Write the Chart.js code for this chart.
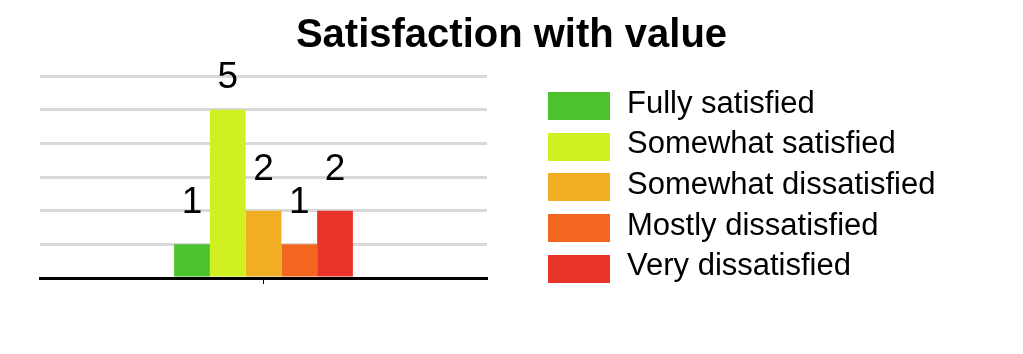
<!DOCTYPE html>
<html>
<head>
<meta charset="utf-8">
<title>Satisfaction with value</title>
<script src="https://cdn.jsdelivr.net/npm/chart.js@4/dist/chart.umd.min.js"></script>
<style>
  body { margin: 0; background: #fff; }
  #wrap { width: 1023px; height: 354px; position: relative; font-family: 'Liberation Sans', Arial, sans-serif; color: #000; }
  #title { position: absolute; left: 0; top: 13px; width: 1023px; text-align: center; font-size: 40px; line-height: 40px; font-weight: bold; }
  #legend { position: absolute; left: 548px; top: 0; }
  .item { position: absolute; left: 0; height: 28px; white-space: nowrap; }
  .box { position: absolute; left: 0; top: 0; width: 62px; height: 28px; }
  .text { position: absolute; left: 79px; top: -3.5px; font-size: 31px; line-height: 28px; }
</style>
</head>
<body>
<div id="wrap">
  <canvas id="chart"></canvas>
  <div id="title">Satisfaction with value</div>
  <div id="legend"></div>
</div>
<script>
// Dados do gráfico
const categories = [''];
const seriesNames = ['Fully satisfied', 'Somewhat satisfied', 'Somewhat dissatisfied', 'Mostly dissatisfied', 'Very dissatisfied'];
const seriesValues = [1, 5, 2, 1, 2];
const seriesColors = ['#4cc22c', '#d0f021', '#f2ae22', '#f3661f', '#e8342b'];
const yTicks = [0, 1, 2, 3, 4, 5, 6];

const fontFamily = "'Liberation Sans', Arial, sans-serif";

// Rótulos de valor acima das barras
const valueLabels = {
    id: 'valueLabels',
    afterDatasetsDraw(chart) {
        const ctx = chart.ctx;
        const top = chart.chartArea.top;
        ctx.save();
        ctx.font = '37px ' + fontFamily;
        ctx.fillStyle = '#000';
        ctx.textAlign = 'center';
        ctx.textBaseline = 'alphabetic';
        chart.data.datasets.forEach((ds, i) => {
            chart.getDatasetMeta(i).data.forEach((bar, j) => {
                const y = Math.max(bar.y - 31, top + 12);
                ctx.fillText(String(ds.data[j]), bar.x, y);
            });
        });
        ctx.restore();
    }
};

const datasets = seriesNames.map((name, i) => ({
    label: name,
    data: [seriesValues[i]],
    backgroundColor: seriesColors[i],
    borderWidth: 0,
    categoryPercentage: 0.4,
    barPercentage: 1.0
}));

const chart = new Chart(document.getElementById('chart'), {
    type: 'bar',
    data: { labels: categories, datasets: datasets },
    options: {
        responsive: true,
        maintainAspectRatio: false,
        animation: false,
        layout: { padding: { left: 40, right: 536, top: 76, bottom: 70 } },
        plugins: {
            title: { display: false },
            legend: { display: false },
            tooltip: { enabled: false }
        },
        scales: {
            x: {
                ticks: { display: false },
                grid: { display: true, drawOnChartArea: false, drawTicks: true, tickLength: 6, offset: false, color: '#000', lineWidth: 1 },
                border: { display: true, color: '#000', width: 3 }
            },
            y: {
                min: 0,
                max: yTicks[yTicks.length - 1],
                afterBuildTicks(axis) { axis.ticks = yTicks.map(v => ({ value: v })); },
                ticks: { display: false },
                grid: { color: '#d9d9d9', lineWidth: 3, drawTicks: false },
                border: { display: false }
            }
        }
    },
    plugins: [valueLabels]
});

// Legenda em HTML, montada a partir das séries
const legend = document.getElementById('legend');
seriesNames.forEach((name, i) => {
    const item = document.createElement('div');
    item.className = 'item';
    item.style.top = (92 + i * 40.7) + 'px';
    item.innerHTML = '<span class="box" style="background:' + seriesColors[i] + '"></span><span class="text">' + name + '</span>';
    legend.appendChild(item);
});
</script>
</body>
</html>
